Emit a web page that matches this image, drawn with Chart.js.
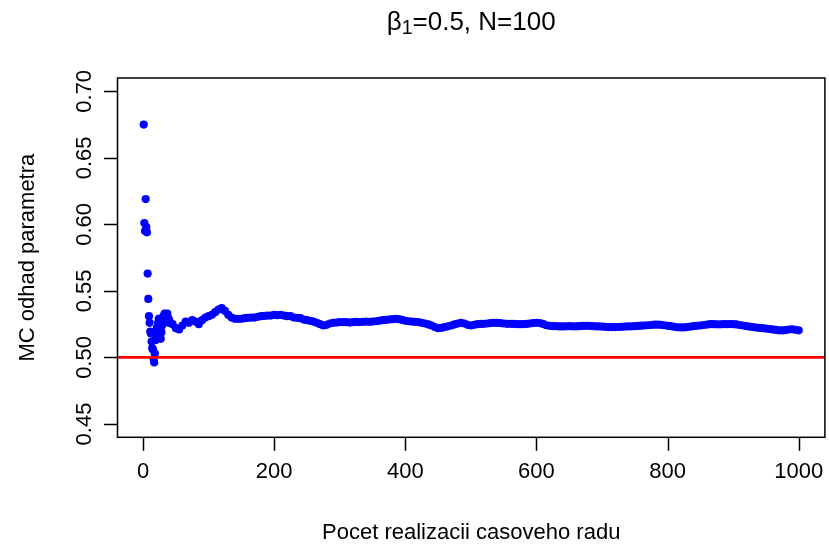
<!DOCTYPE html>
<html>
<head>
<meta charset="utf-8">
<script src="https://cdn.jsdelivr.net/npm/chart.js@4.4.1/dist/chart.umd.min.js"></script>
<style>
html,body{margin:0;padding:0;background:#fff;}
#wrap{width:829px;height:549px;position:relative;}
</style>
</head>
<body>
<div id="wrap"><canvas id="c" width="829" height="549"></canvas></div>
<script>
// ---- data ----
const titleMain = "β";
const titleSub = "1";
const titleRest = "=0.5, N=100";
const xAxisTitle = "Pocet realizacii casoveho radu";
const yAxisTitle = "MC odhad parametra";

const xTicks = [0, 200, 400, 600, 800, 1000];
const xTickLabels = ["0", "200", "400", "600", "800", "1000"];
const yTicks = [0.45, 0.50, 0.55, 0.60, 0.65, 0.70];
const yTickLabels = ["0.45", "0.50", "0.55", "0.60", "0.65", "0.70"];

const trueValue = 0.5;

// first realizations, one by one
const earlyX = [1,2,3,4,5,6,7,8,9,10,11,12,13,14,15,16,17,18,19,20,
                21,22,23,24,25,26,27,28,29,30,31,32,33,34,35,36,37,38,39,40];
const earlyY = [0.675,0.601,0.595,0.619,0.598,0.594,0.563,0.544,0.531,0.526,
                0.5195,0.518,0.512,0.507,0.506,0.499,0.4962,0.503,0.513,0.517,
                0.522,0.520,0.526,0.529,0.523,0.517,0.514,0.519,0.524,0.527,
                0.531,0.529,0.533,0.531,0.528,0.531,0.533,0.530,0.526,0.528];

// later realizations, read every 5
const bandY = [
 0.525,0.522,0.521,0.524,0.527,0.526,0.528,0.527,0.525,0.528,   // 45..90
 0.530,0.531,0.532,0.534,0.536,0.537,0.535,0.532,0.530,0.529,   // 95..140
 0.529,0.529,0.5295,0.5298,0.530,0.530,0.5305,0.531,0.5312,0.5315, // 145..190
 0.5315,0.532,0.5318,0.532,0.5315,0.531,0.531,0.530,0.5298,0.5295, // 195..240
 0.5285,0.528,0.5275,0.527,0.526,0.525,0.524,0.5245,0.5255,0.526,  // 245..290
 0.5262,0.5265,0.5266,0.5265,0.5262,0.5265,0.5267,0.5266,0.5268,0.527, // 295..340
 0.5268,0.527,0.5272,0.5275,0.528,0.5282,0.5285,0.5288,0.529,0.5288,  // 345..390
 0.5282,0.5276,0.5272,0.527,0.5268,0.5266,0.526,0.5255,0.5248,0.524,  // 395..440
 0.5228,0.522,0.5222,0.5228,0.5234,0.524,0.5248,0.5255,0.526,0.5255,  // 445..490
 0.5245,0.524,0.5245,0.525,0.5252,0.5253,0.5255,0.5258,0.526,0.526,   // 495..540
 0.5258,0.5255,0.5253,0.5253,0.5252,0.525,0.525,0.525,0.5252,0.5255,  // 545..590
 0.5258,0.526,0.5258,0.5252,0.5242,0.5238,0.5236,0.5235,0.5233,0.5233, // 595..640
 0.5234,0.5235,0.5234,0.5233,0.5235,0.5237,0.5238,0.5238,0.5236,0.5234, // 645..690
 0.5233,0.5232,0.523,0.5228,0.5228,0.5228,0.5229,0.523,0.5232,0.5233,  // 695..740
 0.5234,0.5235,0.5237,0.5239,0.524,0.5242,0.5244,0.5246,0.5246,0.5245, // 745..790
 0.5242,0.5238,0.5235,0.523,0.5227,0.5226,0.5226,0.5228,0.5232,0.5236, // 795..840
 0.5238,0.524,0.5244,0.5247,0.525,0.525,0.5249,0.5249,0.525,0.525,     // 845..890
 0.5251,0.525,0.5248,0.5244,0.524,0.5236,0.5232,0.5228,0.5225,0.5222,  // 895..940
 0.522,0.5217,0.5214,0.5211,0.5207,0.5204,0.5203,0.5206,0.521,0.5212,  // 945..990
 0.5208,0.5204                                                          // 995..1000
];
const bandStart = 45, bandStep = 5;

// ---- build the library data ----
const pts = [];
for (let i = 0; i < earlyX.length; i++) pts.push({x: earlyX[i], y: earlyY[i]});
for (let i = 0; i < bandY.length; i++) pts.push({x: bandStart + i * bandStep, y: bandY[i]});

const xMin = -38.96, xMax = 1039.96;
const yMin = 0.44, yMax = 0.71;

const FONT = "'Liberation Sans', Arial, Helvetica, sans-serif";

const axesPlugin = {
  id: 'rAxes',
  afterDraw(chart) {
    const ctx = chart.ctx;
    const xs = chart.scales.x, ys = chart.scales.y;
    const a = chart.chartArea;
    ctx.save();
    ctx.strokeStyle = '#000';
    ctx.fillStyle = '#000';
    ctx.lineWidth = 1.5;
    // box
    ctx.strokeRect(a.left, a.top, a.right - a.left, a.bottom - a.top);
    const tl = 13.5;
    // x ticks
    ctx.font = "22px " + FONT;
    ctx.textAlign = 'center';
    ctx.textBaseline = 'alphabetic';
    xTicks.forEach((v, i) => {
      const px = Math.round(xs.getPixelForValue(v)) + 0.5;
      ctx.beginPath(); ctx.moveTo(px, a.bottom); ctx.lineTo(px, a.bottom + tl); ctx.stroke();
      ctx.fillText(xTickLabels[i], xs.getPixelForValue(v), 478);
    });
    // y ticks
    yTicks.forEach((v, i) => {
      const py = Math.round(ys.getPixelForValue(v)) + 0.5;
      ctx.beginPath(); ctx.moveTo(a.left, py); ctx.lineTo(a.left - tl, py); ctx.stroke();
      ctx.save();
      ctx.translate(91, ys.getPixelForValue(v));
      ctx.rotate(-Math.PI / 2);
      ctx.fillText(yTickLabels[i], 0, 0);
      ctx.restore();
    });
    // axis titles
    ctx.fillText(xAxisTitle, (a.left + a.right) / 2, 539);
    ctx.save();
    ctx.translate(34, (a.top + a.bottom) / 2);
    ctx.rotate(-Math.PI / 2);
    ctx.fillText(yAxisTitle, 0, 0);
    ctx.restore();
    // main title with subscript
    const big = "26px " + FONT, small = "19.5px " + FONT;
    ctx.font = big; const w1 = ctx.measureText(titleMain).width;
    const w3 = ctx.measureText(titleRest).width;
    ctx.font = small; const w2 = ctx.measureText(titleSub).width;
    const total = w1 + w2 + w3;
    let x0 = (a.left + a.right) / 2 - total / 2;
    const base = 29.5;
    ctx.textAlign = 'left';
    ctx.font = big; ctx.fillText(titleMain, x0, base);
    ctx.font = small; ctx.fillText(titleSub, x0 + w1, base + 4);
    ctx.font = big; ctx.fillText(titleRest, x0 + w1 + w2, base);
    ctx.restore();
  }
};

new Chart(document.getElementById('c'), {
  type: 'scatter',
  data: {
    datasets: [
      {
        label: 'true',
        type: 'line',
        data: [{x: xMin, y: trueValue}, {x: xMax, y: trueValue}],
        borderColor: '#FF0000',
        borderWidth: 2.8,
        pointRadius: 0,
        fill: false
      },
      {
        label: 'MC',
        data: pts,
        pointRadius: 4.1,
        pointHoverRadius: 4.1,
        pointBackgroundColor: '#0000FF',
        pointBorderColor: '#0000FF',
        pointBorderWidth: 0,
        showLine: false
      }
    ]
  },
  options: {
    responsive: false,
    animation: false,
    devicePixelRatio: 1,
    layout: { padding: { left: 117.5, right: 3, top: 78, bottom: 111.7 } },
    plugins: { legend: { display: false }, tooltip: { enabled: false }, title: { display: false } },
    scales: {
      x: { type: 'linear', min: xMin, max: xMax, display: false },
      y: { type: 'linear', min: yMin, max: yMax, display: false }
    }
  },
  plugins: [axesPlugin]
});
</script>
</body>
</html>
